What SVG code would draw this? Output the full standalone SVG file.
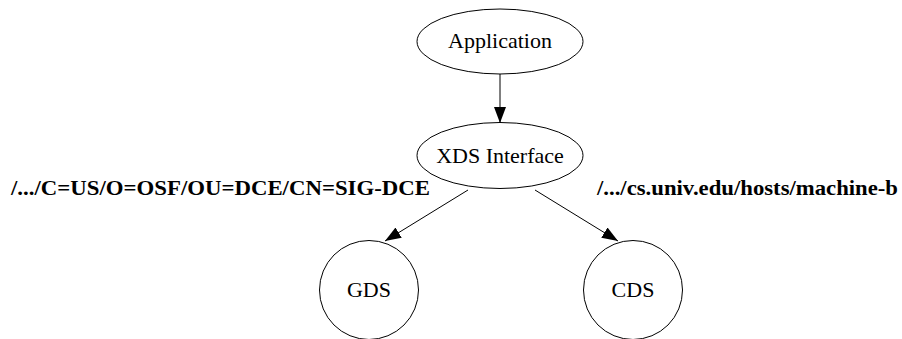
<svg xmlns="http://www.w3.org/2000/svg" width="902" height="339" viewBox="0 0 902 339">
<defs>
<marker id="arr" markerWidth="16" markerHeight="12" refX="16" refY="6" orient="auto" markerUnits="userSpaceOnUse">
<path d="M0,0 L16,6 L0,12 Z" fill="#000"/>
</marker>
</defs>
<rect width="902" height="339" fill="#fff"/>
<g id="connectors" stroke="#000" stroke-width="1" fill="none">
<line x1="500" y1="74" x2="500" y2="123" marker-end="url(#arr)"/>
<line x1="468" y1="190" x2="385" y2="241" marker-end="url(#arr)"/>
<line x1="535" y1="190" x2="618" y2="241" marker-end="url(#arr)"/>
</g>
<g id="edge-labels" font-family="Liberation Serif, Times New Roman, serif" font-size="21" font-weight="bold" fill="#000" stroke="none">
<text x="11" y="195" textLength="419" lengthAdjust="spacingAndGlyphs">/.../C=US/O=OSF/OU=DCE/CN=SIG-DCE</text>
<text x="597" y="195" textLength="301" lengthAdjust="spacingAndGlyphs">/.../cs.univ.edu/hosts/machine-b</text>
</g>
<g font-family="Liberation Serif, Times New Roman, serif" font-size="22" text-anchor="middle">
<g id="application">
<ellipse cx="500" cy="41.5" rx="83" ry="32.5" fill="#fff" stroke="#000"/>
<text x="500" y="48" fill="#000">Application</text>
</g>
<g id="xds">
<ellipse cx="500" cy="155.5" rx="83" ry="33" fill="#fff" stroke="#000"/>
<text x="500" y="163" fill="#000">XDS Interface</text>
</g>
<g id="gds">
<circle cx="369" cy="290" r="49.5" fill="#fff" stroke="#000"/>
<text x="369" y="297" fill="#000">GDS</text>
</g>
<g id="cds">
<circle cx="633" cy="290" r="49.5" fill="#fff" stroke="#000"/>
<text x="633" y="297" fill="#000">CDS</text>
</g>
</g>
</svg>
